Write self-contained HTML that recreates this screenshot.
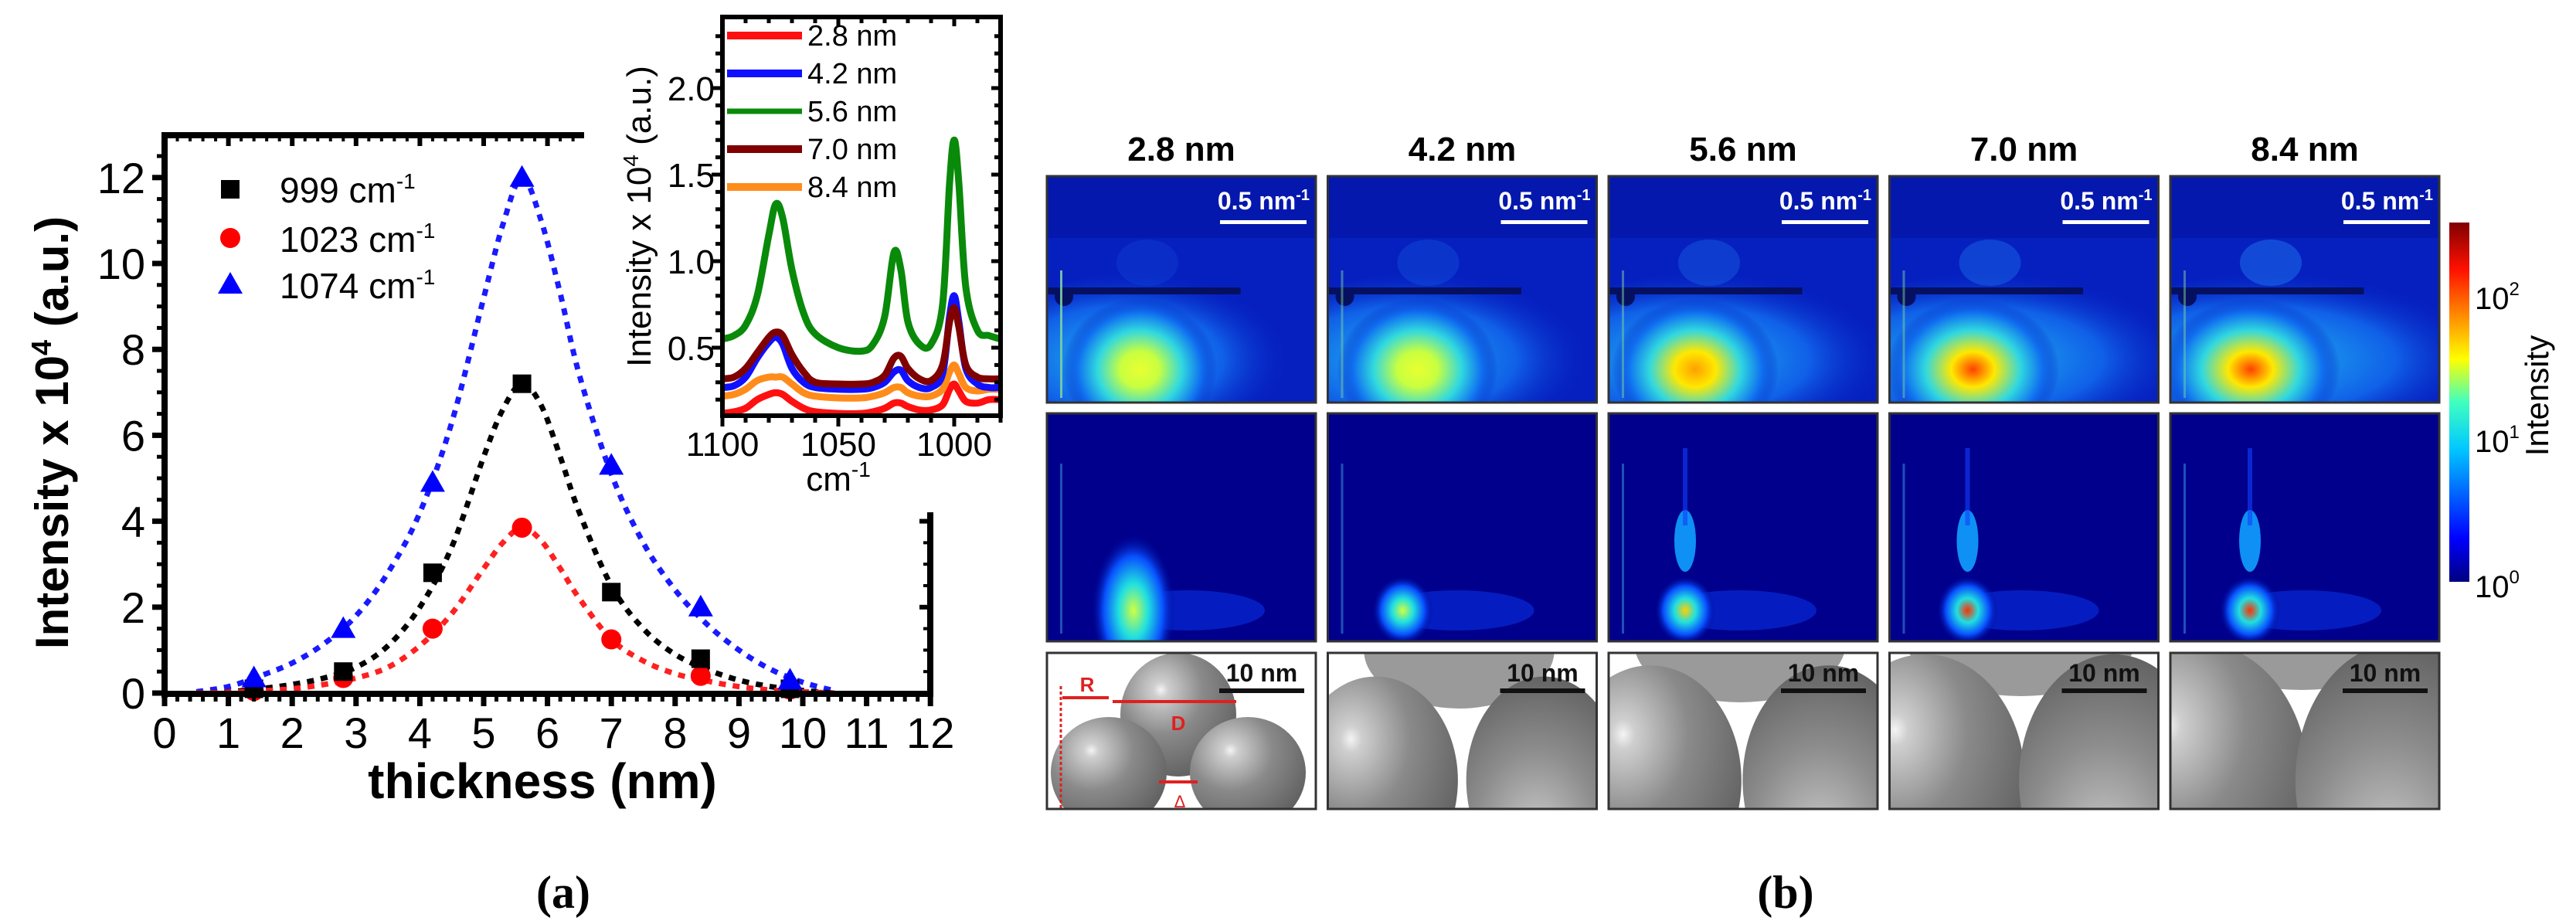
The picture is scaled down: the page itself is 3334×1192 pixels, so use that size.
<!DOCTYPE html>
<html><head><meta charset="utf-8"><style>
html,body{margin:0;padding:0;background:#fff;}
svg{display:block;font-family:"Liberation Sans",Arial,sans-serif;}
</style></head><body>
<svg id="fig" width="3334" height="1192" viewBox="0 0 3334 1192" xmlns="http://www.w3.org/2000/svg">
<defs>
  <linearGradient id="jet" x1="0" y1="1" x2="0" y2="0">
    <stop offset="0" stop-color="#00007f"/><stop offset="0.12" stop-color="#0000ff"/>
    <stop offset="0.37" stop-color="#00c8ff"/><stop offset="0.5" stop-color="#40ffbf"/>
    <stop offset="0.62" stop-color="#ffff00"/><stop offset="0.87" stop-color="#ff1000"/>
    <stop offset="1" stop-color="#800000"/>
  </linearGradient>
  <radialGradient id="sph" cx="0.35" cy="0.3" r="0.8">
    <stop offset="0" stop-color="#f4f4f4"/><stop offset="0.08" stop-color="#cfcfcf"/>
    <stop offset="0.45" stop-color="#8a8a8a"/><stop offset="1" stop-color="#5a5a5a"/>
  </radialGradient>
  <radialGradient id="sph2" cx="0.45" cy="0.75" r="0.8">
    <stop offset="0" stop-color="#c8c8c8"/><stop offset="0.5" stop-color="#8c8c8c"/><stop offset="1" stop-color="#5e5e5e"/>
  </radialGradient>
</defs>
<g id="root"></g>
</svg>
<script>
// ---------- main chart data ----------
const xTicks = [0,1,2,3,4,5,6,7,8,9,10,11,12];
const yTicks = [0,2,4,6,8,10,12];
const ptsX999 = [1.4, 2.8, 4.2, 5.6, 7.0, 8.4, 9.8];
const ptsY999 = [0.1, 0.5, 2.8, 7.2, 2.35, 0.8, 0.1];
const ptsX1023 = [1.4, 2.8, 4.2, 5.6, 7.0, 8.4, 9.8];
const ptsY1023 = [0.05, 0.35, 1.5, 3.85, 1.25, 0.4, 0.08];
const ptsX1074 = [1.4, 2.8, 4.2, 5.6, 7.0, 8.4, 9.8];
const ptsY1074 = [0.35, 1.5, 4.9, 12.0, 5.3, 2.0, 0.3];
const fitX = [0.5,1,1.5,2,2.5,3,3.5,4,4.5,5,5.3,5.6,5.9,6.2,6.5,7,7.5,8,8.5,9,9.5,10,10.5];
const fit1074 = [0.03,0.15,0.4,0.7,1.15,1.8,2.8,4.2,6.3,9.2,10.9,12.0,11.0,9.3,7.4,5.1,3.5,2.4,1.6,1.0,0.55,0.25,0.05];
const fit999 = [0,0.03,0.1,0.2,0.35,0.6,1.1,2.0,3.4,5.5,6.6,7.2,6.7,5.5,4.2,2.5,1.5,0.9,0.55,0.3,0.15,0.06,0];
const fit1023 = [0,0.02,0.05,0.1,0.2,0.35,0.6,1.1,1.85,2.9,3.5,3.85,3.55,2.9,2.2,1.25,0.75,0.45,0.28,0.15,0.07,0.03,0];
// ---------- inset data ----------
const insetXTicks = [1100,1050,1000];
const insetYTicks = [0.5,1.0,1.5,2.0];
const insetLabels = ["2.8 nm","4.2 nm","5.6 nm","7.0 nm","8.4 nm"];
const wn = [1100,1095,1090,1085,1080,1077,1074,1070,1065,1060,1050,1040,1035,1030,1026,1023,1020,1015,1010,1005,1002,1000,998,995,990,985,980];
const spec28 = [0.12,0.13,0.15,0.20,0.23,0.24,0.23,0.19,0.15,0.13,0.12,0.12,0.13,0.15,0.18,0.18,0.16,0.14,0.14,0.17,0.26,0.29,0.25,0.19,0.18,0.20,0.20];
const spec42 = [0.27,0.28,0.33,0.44,0.53,0.56,0.52,0.38,0.30,0.27,0.26,0.26,0.27,0.30,0.36,0.37,0.31,0.27,0.27,0.35,0.68,0.80,0.65,0.38,0.29,0.27,0.27];
const spec56 = [0.55,0.57,0.63,0.80,1.15,1.33,1.25,0.95,0.70,0.58,0.50,0.48,0.52,0.68,1.05,0.95,0.65,0.52,0.52,0.75,1.45,1.70,1.45,0.85,0.60,0.57,0.55];
const spec70 = [0.32,0.33,0.38,0.47,0.56,0.59,0.57,0.46,0.36,0.30,0.29,0.29,0.30,0.34,0.44,0.45,0.38,0.32,0.31,0.40,0.65,0.73,0.62,0.40,0.33,0.32,0.32];
const spec84 = [0.22,0.23,0.26,0.31,0.33,0.33,0.33,0.29,0.24,0.22,0.21,0.21,0.22,0.24,0.27,0.27,0.24,0.22,0.22,0.26,0.36,0.40,0.35,0.27,0.25,0.26,0.26];
// ---------- panel b data ----------
const thickLabels = ["2.8 nm","4.2 nm","5.6 nm","7.0 nm","8.4 nm"];
const blobLevel = [0.55, 0.62, 0.7, 0.82, 0.92];

const NS = "http://www.w3.org/2000/svg";
const root = document.getElementById('root');
function mk(tag, attrs, parent, text){
  const e = document.createElementNS(NS, tag);
  for (const k in attrs) e.setAttribute(k, attrs[k]);
  if (text !== undefined) e.textContent = text;
  (parent||root).appendChild(e);
  return e;
}
function smooth(pts){
  let d = "M"+pts[0][0]+","+pts[0][1];
  for (let i=0;i<pts.length-1;i++){
    const p0=pts[Math.max(i-1,0)], p1=pts[i], p2=pts[i+1], p3=pts[Math.min(i+2,pts.length-1)];
    const c1x=p1[0]+(p2[0]-p0[0])/6, c1y=p1[1]+(p2[1]-p0[1])/6;
    const c2x=p2[0]-(p3[0]-p1[0])/6, c2y=p2[1]-(p3[1]-p1[1])/6;
    d+=" C"+c1x+","+c1y+" "+c2x+","+c2y+" "+p2[0]+","+p2[1];
  }
  return d;
}
// ---- main axes ----
const X = v => 213 + v*82.6;
const Y = v => 897 - v*55.6;
const gMain = mk('g', {});



const fits = [[fit1074,'#1a1aff','fit-1074'],[fit999,'#000','fit-999'],[fit1023,'#ff2020','fit-1023']];
fits.forEach(f=>{
  const p = mk('path',{d:smooth(fitX.map((x,i)=>[X(x),Y(f[0][i])])),fill:'none',stroke:f[1],'stroke-width':7,'stroke-dasharray':'9 9'},gMain);
  
  
});
function square(cx,cy,c,g){return mk('rect',{x:cx-12,y:cy-12,width:24,height:24,fill:c},g);}
function circ(cx,cy,c,g){return mk('circle',{cx:cx,cy:cy,r:13,fill:c},g);}
function tri(cx,cy,c,g){return mk('polygon',{points:(cx)+','+(cy-16)+' '+(cx-16)+','+(cy+12)+' '+(cx+16)+','+(cy+12),fill:c},g);}
ptsX1023.forEach((x,i)=>{const m=circ(X(x),Y(ptsY1023[i]),'#ff0000',gMain);
  
  });
ptsX999.forEach((x,i)=>{const m=square(X(x),Y(ptsY999[i]),'#000',gMain);
  
  });
ptsX1074.forEach((x,i)=>{const m=tri(X(x),Y(ptsY1074[i]),'#0000ff',gMain);
  
  });

mk('line',{x1:213,y1:175,x2:213,y2:903,stroke:'#000','stroke-width':8},gMain);
mk('line',{x1:209,y1:898,x2:1208,y2:898,stroke:'#000','stroke-width':8},gMain);
mk('line',{x1:209,y1:175,x2:756,y2:175,stroke:'#000','stroke-width':8},gMain);
mk('line',{x1:1204,y1:663,x2:1204,y2:902,stroke:'#000','stroke-width':8},gMain);
for(let v=0; v<=12.001; v+=0.2){
  const maj = Math.abs(v-Math.round(v))<0.01;
  mk('line',{x1:X(v),y1:898,x2:X(v),y2:898+(maj?16:10),stroke:'#000','stroke-width':maj?7:5},gMain);
  if (X(v)<755) mk('line',{x1:X(v),y1:175,x2:X(v),y2:175+(maj?14:8),stroke:'#000','stroke-width':maj?6:4},gMain);
}
for(let v=0; v<=12.8; v+=0.5){
  const maj = Math.abs(v/2-Math.round(v/2))<0.01;
  mk('line',{x1:213,y1:Y(v),x2:213-(maj?16:10),y2:Y(v),stroke:'#000','stroke-width':maj?7:5},gMain);
  if (Y(v)>663) mk('line',{x1:1204,y1:Y(v),x2:1204-(maj?14:9),y2:Y(v),stroke:'#000','stroke-width':maj?6:4},gMain);
}
xTicks.forEach(t=>{const e=mk('text',{x:X(t),y:968,'font-size':56,'text-anchor':'middle'},gMain,String(t));
  
  });
yTicks.forEach(t=>{const e=mk('text',{x:188,y:Y(t)+20,'font-size':56,'text-anchor':'end'},gMain,String(t));
  
  });
let t1 = mk('text',{x:702,y:1033,'font-size':64,'font-weight':'bold','text-anchor':'middle'},gMain,'thickness (nm)');


let t2 = mk('text',{transform:'translate(88,560) rotate(-90)','font-size':60,'font-weight':'bold','text-anchor':'middle'},gMain);


mk('tspan',{},t2,'Intensity x 10');mk('tspan',{dy:-22,'font-size':36},t2,'4');mk('tspan',{dy:22},t2,' (a.u.)');
const lg = mk('g',{},gMain);


square(298,245,'#000',lg); circ(298,308,'#ff0000',lg); tri(298,368,'#0000ff',lg);
[['999 cm',262],['1023 cm',326],['1074 cm',386]].forEach((r,i)=>{
  const e=mk('text',{x:362,y:r[1],'font-size':46},lg);
  mk('tspan',{},e,r[0]); mk('tspan',{dy:-18,'font-size':28},e,'-1');
  
  
});
let la = mk('text',{x:729,y:1175,'font-size':60,'font-weight':'bold','font-family':'Liberation Serif, serif','text-anchor':'middle'},root,'(a)');



// ---- inset ----
const gIn = mk('g',{});


mk('rect',{x:806,y:0,width:496,height:560,fill:'#fff'},gIn);
mk('rect',{x:885,y:560,width:417,height:95,fill:'#fff'},gIn);
const IX = w => 935 + (1100-w)*3;
const IY = v => 562 - v*224;
const specs = [[spec28,'#ff1010'],[spec84,'#ff8c1a'],[spec42,'#1010ff'],[spec70,'#800000'],[spec56,'#0a8a0a']];
const cp = mk('clipPath',{id:'inclip'},gIn); mk('rect',{x:935,y:22,width:360,height:516},cp);
specs.forEach(s=>{
  const p=mk('path',{d:smooth(wn.map((w,i)=>[IX(w),IY(s[0][i])])),fill:'none',stroke:s[1],'stroke-width':9,'clip-path':'url(#inclip)','stroke-linejoin':'round'},gIn);
  
  
});
mk('rect',{x:935,y:22,width:360,height:516,fill:'none',stroke:'#000','stroke-width':6},gIn);
for(let w=1100; w>=980; w-=10){
  const maj = w%50===0;
  mk('line',{x1:IX(w),y1:538,x2:IX(w),y2:538+(maj?14:9),stroke:'#000','stroke-width':5},gIn);
  mk('line',{x1:IX(w),y1:22,x2:IX(w),y2:22+(maj?12:8),stroke:'#000','stroke-width':5},gIn);
}
for(let v=0.2; v<=2.4; v+=0.1){
  const maj = Math.abs(v*2-Math.round(v*2))<0.01;
  mk('line',{x1:935,y1:IY(v),x2:935-(maj?14:9),y2:IY(v),stroke:'#000','stroke-width':5},gIn);
  mk('line',{x1:1295,y1:IY(v),x2:1295-(maj?12:8),y2:IY(v),stroke:'#000','stroke-width':5},gIn);
}
insetXTicks.forEach(t=>{const e=mk('text',{x:IX(t),y:590,'font-size':44,'text-anchor':'middle'},gIn,String(t));
  
  });
insetYTicks.forEach(t=>{const e=mk('text',{x:925,y:IY(t)+16,'font-size':44,'text-anchor':'end'},gIn,t.toFixed(1));
  
  });
let ixl = mk('text',{x:1085,y:635,'font-size':44,'text-anchor':'middle'},gIn);
mk('tspan',{},ixl,'cm'); mk('tspan',{dy:-18,'font-size':28},ixl,'-1');


let iyl = mk('text',{transform:'translate(842,280) rotate(-90)','font-size':44,'text-anchor':'middle'},gIn);
mk('tspan',{},iyl,'Intensity x 10'); mk('tspan',{dy:-16,'font-size':28},iyl,'4'); mk('tspan',{dy:16},iyl,' (a.u.)');


const legCols = ['#ff1010','#1010ff','#0a8a0a','#800000','#ff8c1a'];
insetLabels.forEach((l,i)=>{
  const y = 46 + i*49;
  mk('rect',{x:941,y:y-11,width:100,height:i===2?22:20,fill:'#fff'},gIn);
  mk('line',{x1:941,y1:y,x2:1038,y2:y,stroke:legCols[i],'stroke-width':i===2?7:10},gIn);
  const e=mk('text',{x:1045,y:y+13,'font-size':38},gIn,l);
  
  
});

// ---- panel b ----
const gB = mk('g',{});


const PW = 348, GAP = 15.5;
thickLabels.forEach((lab,i)=>{
  const L = 1355 + i*(PW+GAP), cx = L+PW/2;
  const tt = mk('text',{x:cx,y:208,'font-size':44,'font-weight':'bold','text-anchor':'middle'},gB,lab);
  
  
  const lv = blobLevel[i];
  const r1 = mk('g',{},gB);
  
  
  const c1 = mk('clipPath',{id:'c1_'+i},gB); mk('rect',{x:L,y:228,width:PW,height:293},c1);
  r1.setAttribute('clip-path','url(#c1_'+i+')');
  mk('rect',{x:L,y:228,width:PW,height:293,fill:'#0620c0'},r1);
  mk('rect',{x:L,y:228,width:PW,height:80,fill:'#04109a',opacity:0.5},r1);
  const rg = mk('radialGradient',{id:'b1_'+i,cx:0.5,cy:0.5,r:0.5},gB);
  const inner = lv>0.8?'#ff4000':(lv>0.65?'#ffa000':'#e8ff30');
  mk('stop',{offset:0,'stop-color':inner},rg);
  mk('stop',{offset:0.25,'stop-color':lv>0.65?'#ffe800':'#c8ff40'},rg);
  mk('stop',{offset:0.55,'stop-color':'#30d8e0'},rg);
  mk('stop',{offset:0.8,'stop-color':'#1070f0'},rg);
  mk('stop',{offset:1,'stop-color':'#0620c0','stop-opacity':0},rg);
  const wg = mk('radialGradient',{id:'w1_'+i,cx:0.4,cy:0.5,r:0.5},gB);
  mk('stop',{offset:0,'stop-color':'#20b8f0'},wg);
  mk('stop',{offset:0.6,'stop-color':'#1060e8'},wg);
  mk('stop',{offset:1,'stop-color':'#0620c0','stop-opacity':0},wg);
  mk('ellipse',{cx:L+140+i*8,cy:465,rx:220+i*20,ry:115,fill:'url(#w1_'+i+')'},r1);
  mk('ellipse',{cx:L+120-i*4,cy:478,rx:100+i*4,ry:92,fill:'url(#b1_'+i+')'},r1);
  mk('ellipse',{cx:L+130,cy:340,rx:40,ry:30,fill:'#1f7af0',opacity:0.15+i*0.08},r1);
  mk('rect',{x:L,y:372,width:PW*0.72,height:9,fill:'#061060'},r1);
  mk('circle',{cx:L+22,cy:384,r:12,fill:'#061060'},r1);
  mk('rect',{x:L+17,y:350,width:3,height:165,fill:'#7ad0a0',opacity:i===0?0.9:0.5},r1);
  [228,535].forEach(ty=>{
    const sb = mk('text',{x:L+PW-8,y:ty+43,'font-size':32,'font-weight':'bold',fill:'#fff','text-anchor':'end'},gB);
    mk('tspan',{},sb,'0.5 nm'); mk('tspan',{dy:-12,'font-size':20},sb,'-1');
    
    
    mk('rect',{x:L+PW-124,y:ty+57,width:112,height:5,fill:'#fff'},gB);
  });
  const r2 = mk('g',{},gB);
  
  
  const c2 = mk('clipPath',{id:'c2_'+i},gB); mk('rect',{x:L,y:535,width:PW,height:295},c2);
  r2.setAttribute('clip-path','url(#c2_'+i+')');
  mk('rect',{x:L,y:535,width:PW,height:295,fill:'#00008c'},r2);
  mk('rect',{x:L+17,y:600,width:3,height:220,fill:'#40a0e0',opacity:0.5},r2);
  const rg2 = mk('radialGradient',{id:'b2_'+i,cx:0.5,cy:0.5,r:0.5},gB);
  mk('stop',{offset:0,'stop-color':lv>0.8?'#ff3000':(lv>0.65?'#ffd000':'#d0ff40')},rg2);
  mk('stop',{offset:0.35,'stop-color':'#20e0e0'},rg2);
  mk('stop',{offset:0.7,'stop-color':'#0850ff'},rg2);
  mk('stop',{offset:1,'stop-color':'#00008c','stop-opacity':0},rg2);
  const bx = L+(i===0?112:95+i*2);
  mk('ellipse',{cx:bx+70,cy:790,rx:100,ry:26,fill:'#0a40ff',opacity:0.45},r2);
  mk('ellipse',{cx:bx,cy:790,rx:i===0?55:40,ry:i===0?100:45,fill:'url(#b2_'+i+')'},r2);
  if(i>=2){
    mk('ellipse',{cx:bx,cy:700,rx:14,ry:40,fill:'#10a0ff',opacity:0.9},r2);
    mk('rect',{x:bx-3,y:580,width:6,height:100,fill:'#1040ff',opacity:0.6},r2);
  }
  const r3 = mk('g',{},gB);
  
  
  const c3 = mk('clipPath',{id:'c3_'+i},gB); mk('rect',{x:L,y:845,width:PW,height:202},c3);
  r3.setAttribute('clip-path','url(#c3_'+i+')');
  mk('rect',{x:L,y:845,width:PW,height:202,fill:'#fff'},r3);
  if(i===0){
    mk('ellipse',{cx:L+170,cy:925,rx:75,ry:80,fill:'url(#sph)'},r3);
    mk('ellipse',{cx:L+80,cy:1000,rx:75,ry:72,fill:'url(#sph)'},r3);
    mk('ellipse',{cx:L+260,cy:1000,rx:75,ry:72,fill:'url(#sph)'},r3);
  } else {
    const s = 1+i*0.12;
    mk('ellipse',{cx:L+170,cy:850-i*8,rx:110*s,ry:75,fill:'#9a9a9a'},r3);
    mk('ellipse',{cx:L+70-i*8,cy:1010,rx:95*s,ry:120*s,fill:'url(#sph)'},r3);
    mk('ellipse',{cx:L+275+i*5,cy:1010,rx:90*s,ry:120*s,fill:'url(#sph2)'},r3);
  }
  if(i===0){
    mk('line',{x1:L+18,y1:888,x2:L+18,y2:1047,stroke:'#e02020','stroke-width':3,'stroke-dasharray':'4 3'},r3);
    mk('line',{x1:L+20,y1:903,x2:L+80,y2:903,stroke:'#e02020','stroke-width':4},r3);
    mk('line',{x1:L+85,y1:908,x2:L+245,y2:908,stroke:'#e02020','stroke-width':4},r3);
    mk('text',{x:L+52,y:895,'font-size':26,'font-weight':'bold',fill:'#e02020','text-anchor':'middle'},r3,'R');
    mk('text',{x:L+170,y:945,'font-size':26,'font-weight':'bold',fill:'#e02020','text-anchor':'middle'},r3,'D');
    mk('line',{x1:L+145,y1:1012,x2:L+195,y2:1012,stroke:'#e02020','stroke-width':4},r3);
    mk('text',{x:L+172,y:1045,'font-size':22,fill:'#e02020','text-anchor':'middle'},r3,'Δ');
  }
  const nb = mk('text',{x:L+PW-70,y:882,'font-size':32,'font-weight':'bold',fill:'#111','text-anchor':'middle'},gB,'10 nm');
  
  
  mk('rect',{x:L+PW-125,y:891,width:110,height:6,fill:'#111'},gB);
  [[228,293],[535,295],[845,202]].forEach(r=>mk('rect',{x:L,y:r[0],width:PW,height:r[1],fill:'none',stroke:'#333','stroke-width':3},gB));
});
const cb = mk('rect',{x:3170,y:288,width:26,height:465,fill:'url(#jet)'},gB);


[['2',400],['1',585],['0',773]].forEach(r=>{
  const e=mk('text',{x:3203,y:r[1],'font-size':40},gB);
  mk('tspan',{},e,'10'); mk('tspan',{dy:-18,'font-size':24},e,r[0]);
  
  
});
let cbt = mk('text',{transform:'translate(3298,512) rotate(-90)','font-size':42,'text-anchor':'middle'},gB,'Intensity');


let lb = mk('text',{x:2311,y:1175,'font-size':60,'font-weight':'bold','font-family':'Liberation Serif, serif','text-anchor':'middle'},root,'(b)');


</script>
</body></html>
